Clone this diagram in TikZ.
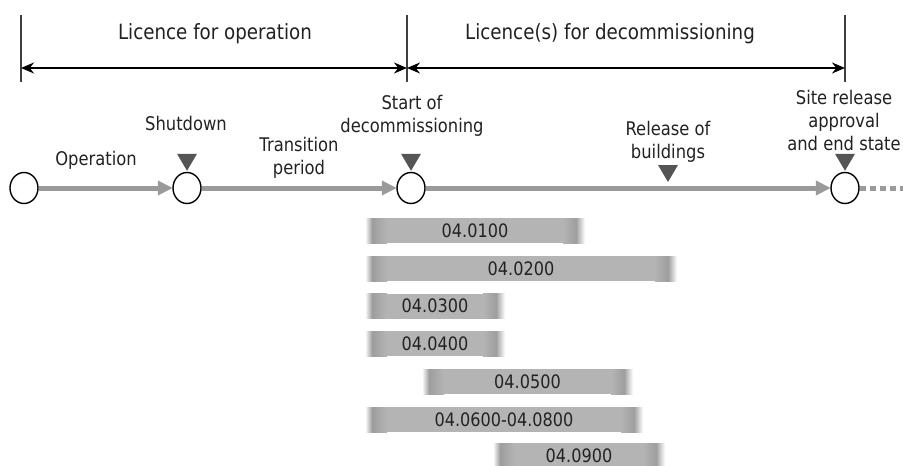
\documentclass[tikz,border=0pt]{standalone}
\usepackage{fontspec}
\setmainfont[FakeStretch=0.87]{DejaVu Sans}
\usetikzlibrary{arrows.meta,shapes.geometric}
\definecolor{tlgray}{HTML}{9A9A9A}
\definecolor{mkgray}{HTML}{555555}
\definecolor{barmid}{HTML}{B4B4B4}
\definecolor{bardark}{HTML}{9E9E9E}
\definecolor{txt}{HTML}{222222}
\tikzset{
  lbl/.style={font=\fontsize{18.8}{23}\selectfont, text=txt, align=center, inner sep=0pt},
  hdr/.style={font=\fontsize{21}{24}\selectfont, text=txt, inner sep=0pt},
  bartxt/.style={font=\fontsize{18.5}{20}\selectfont, text=txt, inner sep=0pt},
  ms/.style={ellipse, draw=black, line width=1.4pt, fill=white, minimum width=28pt, minimum height=31pt, inner sep=0pt},
  tl/.style={draw=tlgray, line width=5pt, -{Triangle[length=15pt,width=14pt]}, shorten >=-0.5pt},
  tldot/.style={draw=tlgray, line width=5pt, dash pattern=on 6pt off 4pt},
  span/.style={draw=black, line width=1.8pt, {Stealth[length=13pt,width=11pt]}-{Stealth[length=13pt,width=11pt]}},
  tick/.style={draw=black!75, line width=1.1pt},
  mkfill/.style={fill=mkgray, draw=none}
}
\newcommand{\gbar}[5]{%
  \shade[left color=white, right color=bardark] (#2,#4-12.5) rectangle (#2+7,#4+12.5);
  \shade[left color=bardark, right color=barmid] (#2+7,#4-12.5) rectangle (#2+22,#4+12.5);
  \fill[barmid] (#2+22,#4-12.5) rectangle (#3-22,#4+12.5);
  \shade[left color=barmid, right color=bardark] (#3-22,#4-12.5) rectangle (#3-9,#4+12.5);
  \shade[left color=bardark, right color=white] (#3-9,#4-12.5) rectangle (#3,#4+12.5);
  \node[bartxt] (#1) at ({(#2+#3)/2},#4) {#5};%
}
\begin{document}
\begin{tikzpicture}[x=1pt,y=-1pt]
\useasboundingbox (0,0) rectangle (903,466);
\fill[white] (0,0) rectangle (903,466);

% licence spans
\coordinate (t1a) at (21,15); \coordinate (t1b) at (21,82);
\coordinate (t2a) at (407,15); \coordinate (t2b) at (407,82);
\coordinate (t3a) at (845,15); \coordinate (t3b) at (845,82);
\draw[tick] (t1a) -- (t1b);
\draw[tick] (t2a) -- (t2b);
\draw[tick] (t3a) -- (t3b);
\coordinate (s1) at (21,68); \coordinate (s2) at (407,68); \coordinate (s3) at (845,68);
\draw[span] (s1) -- (s2);
\draw[span] (s2) -- (s3);
\node[hdr] (hop) at (215,34) {Licence for operation};
\node[hdr] (hdec) at (610,34) {Licence(s) for decommissioning};

% timeline
\node[ms] (c1) at (24,188) {};
\node[ms] (c2) at (187,188) {};
\node[ms] (c3) at (411,188) {};
\node[ms] (c4) at (845,188) {};
\coordinate (tail) at (903,188);
\draw[tl] (c1) -- (c2);
\draw[tl] (c2) -- (c3);
\draw[tl] (c3) -- (c4);
\draw[tldot] (c4.east) -- (tail);

% markers
\fill[mkfill] ([xshift=-10pt,yshift=18pt]c2.north) -- ([xshift=10pt,yshift=18pt]c2.north) -- ([yshift=1pt]c2.north) -- cycle;
\fill[mkfill] ([xshift=-10pt,yshift=18pt]c3.north) -- ([xshift=10pt,yshift=18pt]c3.north) -- ([yshift=1pt]c3.north) -- cycle;
\fill[mkfill] ([xshift=-10pt,yshift=18pt]c4.north) -- ([xshift=10pt,yshift=18pt]c4.north) -- ([yshift=1pt]c4.north) -- cycle;
\coordinate (rb) at (668,182);
\fill[mkfill] ([xshift=-10pt,yshift=17pt]rb) -- ([xshift=10pt,yshift=17pt]rb) -- (rb) -- cycle;

% labels
\node[lbl] (lop) at (96,160) {Operation};
\node[lbl] (lsd) at (186,123) {Shutdown};
\node[lbl] (ltr) at (299,158) {Transition\\period};
\node[lbl] (lst) at (412,116) {Start of\\decommissioning};
\node[lbl] (lrb) at (668,142) {Release of\\buildings};
\node[lbl] (lsr) at (844,120) {Site release\\approval\\and end state};

% bars
\gbar{b1}{365}{585}{230.5}{04.0100}
\gbar{b2}{365}{677}{268.5}{04.0200}
\gbar{b3}{365}{505}{306}{04.0300}
\gbar{b4}{365}{505}{343.5}{04.0400}
\gbar{b5}{422}{633}{381.5}{04.0500}
\gbar{b6}{365}{643}{419.5}{04.0600-04.0800}
\gbar{b7}{493}{665}{455.5}{04.0900}
\end{tikzpicture}
\end{document}
